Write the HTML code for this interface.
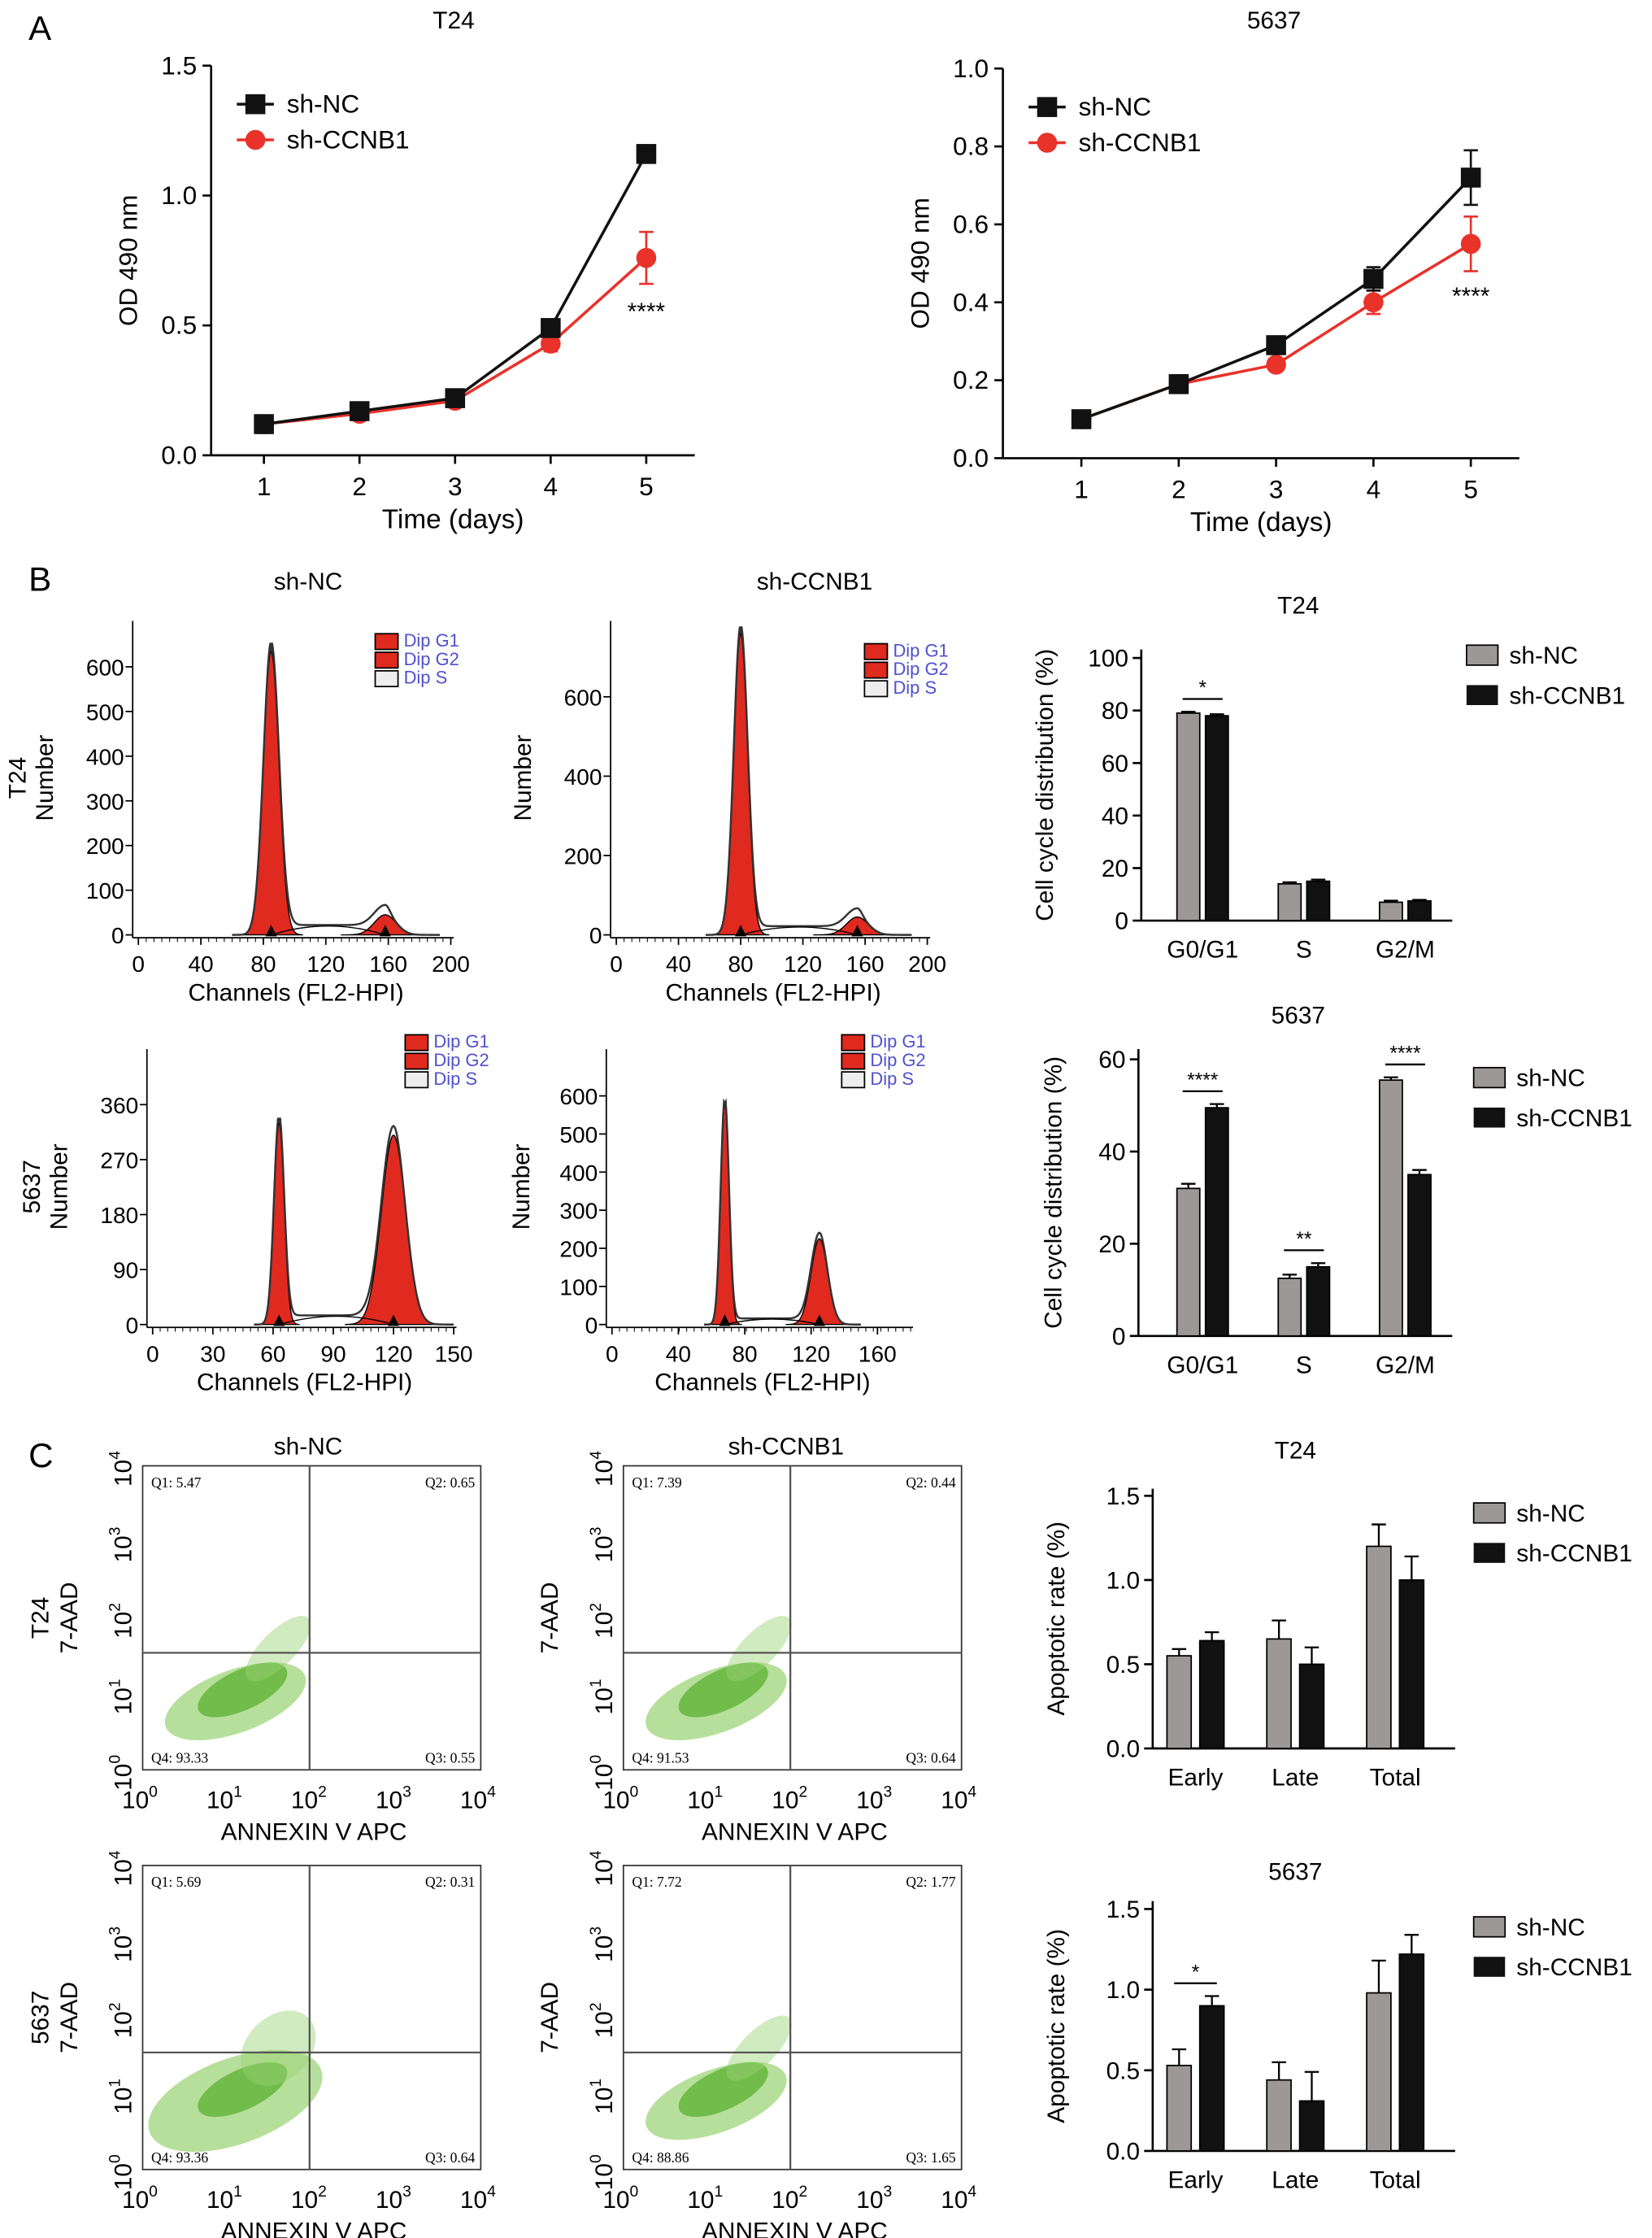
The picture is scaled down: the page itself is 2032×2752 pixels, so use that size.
<!DOCTYPE html>
<html><head><meta charset="utf-8"><style>
html,body{margin:0;padding:0;background:#fff}
svg{display:block;font-family:"Liberation Sans",sans-serif}
</style></head><body>
<svg id="fig" width="2032" height="2752" viewBox="0 0 1158 1568" preserveAspectRatio="none" xmlns="http://www.w3.org/2000/svg">
<text x="20" y="28" font-size="24">A</text>
<text x="20" y="414" font-size="24">B</text>
<text x="20" y="1028" font-size="24">C</text>
</svg>
<script>
// ---- Panel A growth data ----
const days=[1,2,3,4,5];
const t24NC=[0.12,0.17,0.22,0.49,1.16];
const t24NCErr=[0.01,0.01,0.01,0.02,0.03];
const t24KD=[0.12,0.16,0.21,0.43,0.76];
const t24KDErr=[0.01,0.01,0.01,0.03,0.1];
const c5637NC=[0.1,0.19,0.29,0.46,0.72];
const c5637NCErr=[0.01,0.01,0.01,0.03,0.07];
const c5637KD=[0.1,0.19,0.24,0.40,0.55];
const c5637KDErr=[0.01,0.01,0.01,0.03,0.07];
const aTicksT24=["0.0","0.5","1.0","1.5"];
const aTicks5637=["0.0","0.2","0.4","0.6","0.8","1.0"];
// ---- Panel B histograms: [center, height, width] ----
const histT24NC=[[85,635,5],[158,45,7]];
const histT24KD=[[80,760,4.5],[155,45,7]];
const hist5637NC=[[63,330,2.5],[120,310,6]];
const hist5637KD=[[68,580,2.5],[125,225,5]];
const sT24NC=22, sT24KD=22, s5637NC=15, s5637KD=16;
// ---- Panel B cell cycle bars ----
const phases=["G0/G1","S","G2/M"];
const ccT24NC=[79,14,7], ccT24NCErr=[0.5,0.6,0.6];
const ccT24KD=[78,15,7.5], ccT24KDErr=[0.6,0.6,0.4];
const cc5637NC=[32,12.5,55.5], cc5637NCErr=[1,0.8,0.6];
const cc5637KD=[49.5,15,35], cc5637KDErr=[0.8,0.8,1];
// ---- Panel C apoptosis bars ----
const apCats=["Early","Late","Total"];
const apT24NC=[0.55,0.65,1.2], apT24NCErr=[0.04,0.11,0.13];
const apT24KD=[0.64,0.5,1.0], apT24KDErr=[0.05,0.1,0.14];
const ap5637NC=[0.53,0.44,0.98], ap5637NCErr=[0.1,0.11,0.2];
const ap5637KD=[0.9,0.31,1.22], ap5637KDErr=[0.06,0.18,0.12];
// ---- Panel C quadrant percentages ----
const quadT24NC=["Q1: 5.47","Q2: 0.65","Q4: 93.33","Q3: 0.55"];
const quadT24KD=["Q1: 7.39","Q2: 0.44","Q4: 91.53","Q3: 0.64"];
const quad5637NC=["Q1: 5.69","Q2: 0.31","Q4: 93.36","Q3: 0.64"];
const quad5637KD=["Q1: 7.72","Q2: 1.77","Q4: 88.86","Q3: 1.65"];

const svg=document.getElementById('fig');
const NS="http://www.w3.org/2000/svg";
function el(tag,attrs,parent,text){const e=document.createElementNS(NS,tag);for(const k in attrs)e.setAttribute(k,attrs[k]);if(text!==undefined)e.textContent=text;(parent||svg).appendChild(e);return e;}
function grp(name){const g=el('g',{});return g;}
function txt(g,x,y,s,size,anchor,name,extra){const t=el('text',Object.assign({x:x,y:y,'font-size':size,'text-anchor':anchor||'middle'},extra||{}),g,s);return t;}
function ln(g,x1,y1,x2,y2,c,w){return el('line',{x1,y1,x2,y2,stroke:c||'#000','stroke-width':w||1.5},g);}

// ---- line chart ----
function lineChart(name,title,ax,ticks,tickStep,ncV,ncE,kdV,kdE,starY){
  const g=grp(name);
  const X=d=>ax.x1+(d-1)*ax.dx, Y=v=>ax.y0-v*ax.sy;
  txt(g,ax.tx,20,title,17,'middle','chart-title');
  ln(g,ax.left,ax.top,ax.left,ax.y0);ln(g,ax.left,ax.y0,ax.right,ax.y0);
  ticks.forEach((t,i)=>{const y=Y(i*tickStep);ln(g,ax.left-6,y,ax.left,y);txt(g,ax.left-10,y+6,t,18,'end','y-tick-label');});
  days.forEach(d=>{ln(g,X(d),ax.y0,X(d),ax.y0+6);txt(g,X(d),ax.y0+28,String(d),18,'middle','x-tick-label');});
  txt(g,(ax.left+ax.right)/2,ax.y0+51,'Time (days)',19,'middle','x-axis-title');
  const yt=txt(g,0,0,'OD 490 nm',18,'middle','y-axis-title');yt.setAttribute('transform',`translate(${ax.left-52},${(ax.top+ax.y0)/2}) rotate(-90)`);
  [[kdV,kdE,'#e8322a','circle'],[ncV,ncE,'#111','square']].forEach(([v,e,c,m],si)=>{
    const s=grp(si?'series-sh-nc':'series-sh-ccnb1');g.appendChild(s);
    el('polyline',{points:days.map((d,i)=>X(d)+','+Y(v[i])).join(' '),fill:'none',stroke:c,'stroke-width':2},s);
    days.forEach((d,i)=>{const x=X(d);ln(s,x,Y(v[i]-e[i]),x,Y(v[i]+e[i]),c,1.5);ln(s,x-5,Y(v[i]+e[i]),x+5,Y(v[i]+e[i]),c,1.5);ln(s,x-5,Y(v[i]-e[i]),x+5,Y(v[i]-e[i]),c,1.5);
      let mk;if(m==='circle')mk=el('circle',{cx:x,cy:Y(v[i]),r:7,fill:c},s);else mk=el('rect',{x:x-7,y:Y(v[i])-7,width:14,height:14,fill:c},s);
      });
  });
  txt(g,X(5),starY,'****',17,'middle','significance-stars');
  const lg=grp('legend');g.appendChild(lg);
  const lx=ax.left+18,ly=ax.top+27;
  ln(lg,lx,ly,lx+26,ly,'#111',2);el('rect',{x:lx+6,y:ly-7,width:14,height:14,fill:'#111'},lg);txt(lg,lx+35,ly+6,'sh-NC',18,'start','legend-entry');
  ln(lg,lx,ly+25,lx+26,ly+25,'#e8322a',2);el('circle',{cx:lx+13,cy:ly+25,r:7,fill:'#e8322a'},lg);txt(lg,lx+35,ly+31,'sh-CCNB1',18,'start','legend-entry');
}
lineChart('growth-chart-t24','T24',{left:148,right:487,top:46,y0:319,x1:185,dx:67,sy:182,tx:318},aTicksT24,0.5,t24NC,t24NCErr,t24KD,t24KDErr,224);
lineChart('growth-chart-5637','5637',{left:703,right:1065,top:48,y0:321,x1:758,dx:68.25,sy:273,tx:893},aTicks5637,0.2,c5637NC,c5637NCErr,c5637KD,c5637KDErr,213);

// ---- histograms ----
function hist(name,ax,peaks,sLevel,xt,yt,ylab,rowLab){
  const g=grp(name);
  const X=c=>ax.x0+c*ax.sx, Y=v=>ax.y0-v*ax.sy;
  ln(g,ax.x0-4,ax.top,ax.x0-4,ax.y0+2,'#000',1);ln(g,ax.x0-4,ax.y0+2,ax.right,ax.y0+2,'#000',1);
  yt.forEach(t=>{ln(g,ax.x0-9,Y(t),ax.x0-4,Y(t),'#000',1);txt(g,ax.x0-10,Y(t)+6,String(t),16,'end','y-tick-label');});
  xt.forEach(t=>{ln(g,X(t),ax.y0+2,X(t),ax.y0+7,'#000',1);txt(g,X(t),ax.y0+26,String(t),16,'middle','x-tick-label');});
  for(let c=0;c<=ax.max;c+=ax.max/40)ln(g,X(c),ax.y0+2,X(c),ax.y0+5,'#000',0.6);
  txt(g,(ax.x0+ax.right)/2,ax.y0+46,'Channels (FL2-HPI)',17,'middle','x-axis-title');
  const yl=txt(g,0,0,'Number',17,'middle','y-axis-title');yl.setAttribute('transform',`translate(${ax.x0-ax.no},${(ax.top+ax.y0)/2}) rotate(-90)`);
  if(rowLab){const r=txt(g,0,0,rowLab,17,'middle','row-label');r.setAttribute('transform',`translate(${ax.x0-ax.no-19},${(ax.top+ax.y0)/2}) rotate(-90)`);}
  const gauss=(p,c)=>p[1]*Math.exp(-0.5*Math.pow((c-p[0])/p[2],2));
  peaks.forEach(p=>{let d=`M${X(p[0]-4*p[2])},${Y(0)}`;for(let c=p[0]-4*p[2];c<=p[0]+4*p[2];c+=0.25)d+=` L${X(c)},${Y(gauss(p,c))}`;d+=` L${X(p[0]+4*p[2])},${Y(0)}Z`;
    const pe=el('path',{d,fill:'#e02a1f',stroke:'#000','stroke-width':0.8},g);
    el('path',{d:`M${X(p[0])-4},${ax.y0+1} L${X(p[0])+4},${ax.y0+1} L${X(p[0])},${ax.y0-7}Z`,fill:'#000'},g);});
  let d='';const a=peaks[0],b=peaks[1];
  for(let c=a[0]-5*a[2];c<=b[0]+5*b[2];c+=0.5){const sp=(c>a[0]&&c<b[0])?sLevel:sLevel*Math.exp(-Math.pow((c<a[0]?c-a[0]:c-b[0])/4,2));const v=gauss(a,c)+gauss(b,c)+sp;d+=(d?' L':'M')+X(c)+','+Y(v);}
  el('path',{d,fill:'none',stroke:'#333','stroke-width':1.4},g);
  el('path',{d:`M${X(a[0])},${Y(0)} Q${X((a[0]+b[0])/2)},${Y(sLevel*1.8)} ${X(b[0])},${Y(0)}`,fill:'none',stroke:'#000','stroke-width':0.8},g);
  const lg=grp('legend');g.appendChild(lg);
  [['Dip G1','#e02a1f'],['Dip G2','#e02a1f'],['Dip S','#eee']].forEach((it,i)=>{el('rect',{x:ax.lx,y:ax.ly+i*13-9,width:16,height:11,fill:it[1],stroke:'#000','stroke-width':1},lg);txt(lg,ax.lx+20,ax.ly+i*13,it[0],12.5,'start','legend-entry',{fill:'#5050d0'});});
}
txt(svg,216,413,'sh-NC',17,'middle','column-title-sh-nc');
txt(svg,571,413,'sh-CCNB1',17,'middle','column-title-sh-ccnb1');
hist('histogram-t24-sh-nc',{x0:97,right:318,top:435,y0:655,sx:1.095,sy:0.313,max:200,lx:263,ly:453,no:60},histT24NC,sT24NC,[0,40,80,120,160,200],[0,100,200,300,400,500,600],'Number','T24');
hist('histogram-t24-sh-ccnb1',{x0:432,right:652,top:435,y0:655,sx:1.09,sy:0.278,max:200,lx:606,ly:460,no:60},histT24KD,sT24KD,[0,40,80,120,160,200],[0,200,400,600],'Number');
hist('histogram-5637-sh-nc',{x0:107,right:320,top:735,y0:928,sx:1.407,sy:0.428,max:150,lx:284,ly:734,no:60},hist5637NC,s5637NC,[0,30,60,90,120,150],[0,90,180,270,360],'Number','5637');
hist('histogram-5637-sh-ccnb1',{x0:429,right:640,top:735,y0:928,sx:1.163,sy:0.267,max:180,lx:590,ly:734,no:58},hist5637KD,s5637KD,[0,40,80,120,160],[0,100,200,300,400,500,600],'Number');

// ---- bar charts ----
function barChart(name,title,ax,cats,nc,ncE,kd,kdE,yt,ylab,sigs){
  const g=grp(name);
  const Y=v=>ax.y0-v*ax.sy;
  txt(g,ax.cx,ax.ty,title,17,'middle','chart-title');
  ln(g,ax.left,ax.top,ax.left,ax.y0);ln(g,ax.left,ax.y0,ax.right,ax.y0);
  yt.forEach(t=>{ln(g,ax.left-6,Y(+t),ax.left,Y(+t));txt(g,ax.left-9,Y(+t)+6,t,17,'end','y-tick-label');});
  const yl=txt(g,0,0,ylab,17,'middle','y-axis-title');yl.setAttribute('transform',`translate(${ax.left-ax.yo},${(ax.top+ax.y0)/2}) rotate(-90)`);
  cats.forEach((c,i)=>{const cx=ax.x0+i*ax.dx;txt(g,cx,ax.y0+26,c,17,'middle','x-tick-label');
    [[nc,ncE,'#9d9898',-1],[kd,kdE,'#111',1]].forEach(([v,e,col,s])=>{const bx=cx+s*(ax.bw/2+ax.gap/2)-ax.bw/2;
      const r=el('rect',{x:bx,y:Y(v[i]),width:ax.bw,height:Y(0)-Y(v[i]),fill:col,stroke:'#000','stroke-width':1},g);
      
      const mx=bx+ax.bw/2;ln(g,mx,Y(v[i]),mx,Y(v[i]+e[i]),'#000',1.3);ln(g,mx-5,Y(v[i]+e[i]),mx+5,Y(v[i]+e[i]),'#000',1.3);});
    if(sigs&&sigs[i]){const top=Math.max(nc[i]+ncE[i],kd[i]+kdE[i]);const y=Y(top)-9;ln(g,cx-ax.bw+2,y,cx+ax.bw-2,y,'#000',1.3);txt(g,cx,y-3,sigs[i],14,'middle','significance-stars');}
  });
  const lg=grp('legend');g.appendChild(lg);
  el('rect',{x:ax.lx,y:ax.ly-12,width:22,height:14,fill:'#9d9898',stroke:'#000','stroke-width':1},lg);txt(lg,ax.lx+30,ax.ly+1,'sh-NC',17,'start','legend-entry');
  el('rect',{x:ax.lx,y:ax.ly+16,width:22,height:14,fill:'#111'},lg);txt(lg,ax.lx+30,ax.ly+29,'sh-CCNB1',17,'start','legend-entry');
}
barChart('cell-cycle-chart-t24','T24',{left:800,right:1018,top:455,y0:645,sy:1.84,x0:843,dx:71,bw:16,gap:4,cx:910,ty:430,lx:1028,ly:464,yo:62},phases,ccT24NC,ccT24NCErr,ccT24KD,ccT24KDErr,['0','20','40','60','80','100'],'Cell cycle distribution (%)',['*','','']);
barChart('cell-cycle-chart-5637','5637',{left:798,right:1018,top:735,y0:936,sy:3.23,x0:843,dx:71,bw:16,gap:4,cx:910,ty:717,lx:1033,ly:760,yo:54},phases,cc5637NC,cc5637NCErr,cc5637KD,cc5637KDErr,['0','20','40','60'],'Cell cycle distribution (%)',['****','**','****']);
barChart('apoptosis-chart-t24','T24',{left:808,right:1020,top:1043,y0:1225,sy:118,x0:838,dx:70,bw:17,gap:6,cx:908,ty:1022,lx:1033,ly:1065,yo:62},apCats,apT24NC,apT24NCErr,apT24KD,apT24KDErr,['0.0','0.5','1.0','1.5'],'Apoptotic rate (%)');
barChart('apoptosis-chart-5637','5637',{left:808,right:1020,top:1332,y0:1507,sy:113,x0:838,dx:70,bw:17,gap:6,cx:908,ty:1317,lx:1033,ly:1355,yo:62},apCats,ap5637NC,ap5637NCErr,ap5637KD,ap5637KDErr,['0.0','0.5','1.0','1.5'],'Apoptotic rate (%)',['*','','']);

// ---- flow scatter plots ----
function scatter(name,ax,quads,rowLab,spread){
  const g=grp(name);
  const L=ax.x0,R=ax.x0+237,T=ax.y0,B=ax.y0+213;
  el('rect',{x:L,y:T,width:237,height:213,fill:'none',stroke:'#333','stroke-width':1},g);
  const cl=grp('cell-cloud');g.appendChild(cl);
  el('ellipse',{cx:L+65,cy:B-48,rx:52+spread*6,ry:22+spread*4,fill:'#7cc44a',opacity:0.55,transform:`rotate(-20 ${L+65} ${B-48})`},cl);
  el('ellipse',{cx:L+70,cy:B-56,rx:34,ry:14,fill:'#5fb337',opacity:0.8,transform:`rotate(-25 ${L+70} ${B-56})`},cl);
  el('ellipse',{cx:L+95,cy:B-85,rx:30,ry:12+spread*5,fill:'#9ad274',opacity:0.45,transform:`rotate(-45 ${L+95} ${B-85})`},cl);
  ln(g,L+117,T,L+117,B,'#555',1.3);ln(g,L,T+131,R,T+131,'#555',1.3);
  const ff={'font-family':'"Liberation Serif",serif'};
  txt(g,L+6,T+15,quads[0],10,'start','quadrant-label',ff);txt(g,R-4,T+15,quads[1],10,'end','quadrant-label',ff);
  txt(g,L+6,B-5,quads[2],10,'start','quadrant-label',ff);txt(g,R-4,B-5,quads[3],10,'end','quadrant-label',ff);
  for(let i=0;i<=4;i++){const x=L+i*59.25;const t=el('text',{x:x-2,y:B+27,'font-size':17,'text-anchor':'middle'},g);t.textContent='10';el('tspan',{dy:-8,'font-size':11},t,String(i));
    const y=B-i*53.25;const u=el('text',{'font-size':17,'text-anchor':'middle',transform:`translate(${L-8},${y+2}) rotate(-90)`},g);u.textContent='10';el('tspan',{dy:-8,'font-size':11},u,String(i));}
  txt(g,L+120,B+49,'ANNEXIN V APC',17,'middle','x-axis-title');
  const yl=txt(g,0,0,'7-AAD',17,'middle','y-axis-title');yl.setAttribute('transform',`translate(${L-46},${(T+B)/2}) rotate(-90)`);
  if(rowLab){const r=txt(g,0,0,rowLab,17,'middle','row-label');r.setAttribute('transform',`translate(${L-66},${(T+B)/2}) rotate(-90)`);}
}
txt(svg,216,1019,'sh-NC',17,'middle','column-title-sh-nc');
txt(svg,551,1019,'sh-CCNB1',17,'middle','column-title-sh-ccnb1');
scatter('scatter-t24-sh-nc',{x0:100,y0:1027},quadT24NC,'T24',0);
scatter('scatter-t24-sh-ccnb1',{x0:437,y0:1027},quadT24KD,null,0);
scatter('scatter-5637-sh-nc',{x0:100,y0:1307},quad5637NC,'5637',2);
scatter('scatter-5637-sh-ccnb1',{x0:437,y0:1307},quad5637KD,null,0);
</script>
</body></html>
